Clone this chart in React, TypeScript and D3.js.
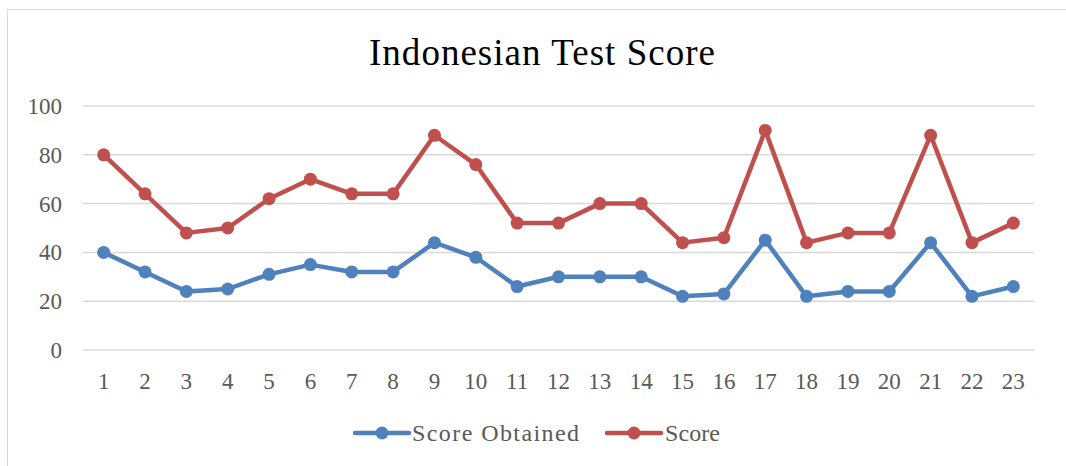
import React from 'react';
import * as d3 from 'd3';

const tests = d3.range(1, 24).map(String);
const scoreObtained = [40, 32, 24, 25, 31, 35, 32, 32, 44, 38, 26, 30, 30, 30, 22, 23, 45, 22, 24, 24, 44, 22, 26];
const score = [80, 64, 48, 50, 62, 70, 64, 64, 88, 76, 52, 52, 60, 60, 44, 46, 90, 44, 48, 48, 88, 44, 52];
const yTicks = [0, 20, 40, 60, 80, 100];
const seriesNames = ['Score Obtained', 'Score'];
const seriesColors = ['#4F81BD', '#C0504D'];

const FONT = '"Liberation Serif", "DejaVu Serif", serif';

const App = () => {
    const ref = React.useRef(null);
    React.useEffect(() => {
        const width = 1066,
            height = 466;
        const root = d3.select(ref.current);
        root.selectAll('*').remove();

        const svg = root.append('svg')
            .attr('width', width)
            .attr('height', height)
            .style('position', 'absolute')
            .style('left', 0)
            .style('top', 0)
            .style('background', '#fff');

        // chart border
        svg.append('rect')
            .attr('x', 7.5)
            .attr('y', 9.5)
            .attr('width', 1070)
            .attr('height', 470)
            .attr('fill', '#fff')
            .attr('stroke', '#D9D9D9')
            .attr('stroke-width', 1);

        const x = d3.scaleBand()
            .domain(tests)
            .range([83, 1034]);

        const y = d3.scaleLinear()
            .domain([0, 100])
            .range([350, 106]);

        // gridlines
        svg.append('g')
            .selectAll('line')
            .data(yTicks)
            .join('line')
            .attr('x1', 83)
            .attr('x2', 1034)
            .attr('y1', d => y(d))
            .attr('y2', d => y(d))
            .attr('stroke', '#D9D9D9')
            .attr('stroke-width', 1.5);

        // y labels
        svg.append('g')
            .selectAll('text')
            .data(yTicks)
            .join('text')
            .attr('x', 62)
            .attr('y', d => y(d))
            .attr('dy', '0.35em')
            .attr('text-anchor', 'end')
            .attr('fill', '#595959')
            .style('font-family', FONT)
            .style('font-size', '23px')
            .text(d => d);

        // x labels
        svg.append('g')
            .selectAll('text')
            .data(tests)
            .join('text')
            .attr('x', d => x(d) + x.bandwidth() / 2)
            .attr('y', 389)
            .attr('text-anchor', 'middle')
            .attr('fill', '#595959')
            .style('font-family', FONT)
            .style('font-size', '23px')
            .text(d => d);

        const cx = (i: number) => x(tests[i]) + x.bandwidth() / 2;
        const line = d3.line<number>()
            .x((d, i) => cx(i))
            .y(d => y(d));

        [scoreObtained, score].forEach((vals, k) => {
            svg.append('path')
                .datum(vals)
                .attr('d', line)
                .attr('fill', 'none')
                .attr('stroke', seriesColors[k])
                .attr('stroke-width', 4.5)
                .attr('stroke-linejoin', 'round')
                .attr('stroke-linecap', 'round');

            svg.append('g')
                .selectAll('circle')
                .data(vals)
                .join('circle')
                .attr('cx', (d, i) => cx(i))
                .attr('cy', d => y(d))
                .attr('r', 6.5)
                .attr('fill', seriesColors[k]);
        });

        // title
        svg.append('text')
            .attr('x', 369)
            .attr('y', 65)
            .attr('fill', '#000')
            .attr('textLength', 346)
            .style('font-family', FONT)
            .style('font-size', '37px')
            .text('Indonesian Test Score');

        // legend
        const legendItems = [
            { lx: 355, tx: 412, tw: 167 },
            { lx: 607, tx: 665, tw: 55 },
        ];
        legendItems.forEach((it, k) => {
            const g = svg.append('g');
            g.append('line')
                .attr('x1', it.lx)
                .attr('x2', it.lx + 54)
                .attr('y1', 433)
                .attr('y2', 433)
                .attr('stroke', seriesColors[k])
                .attr('stroke-width', 4.5)
                .attr('stroke-linecap', 'round');
            g.append('circle')
                .attr('cx', it.lx + 27)
                .attr('cy', 433)
                .attr('r', 6.5)
                .attr('fill', seriesColors[k]);
            g.append('text')
                .attr('x', it.tx)
                .attr('y', 433)
                .attr('dy', '0.35em')
                .attr('fill', '#595959')
                .attr('textLength', it.tw)
                .style('font-family', FONT)
                .style('font-size', '24px')
                .text(seriesNames[k]);
        });
    }, []);

    return <div ref={ref} />;
};

export default App;
